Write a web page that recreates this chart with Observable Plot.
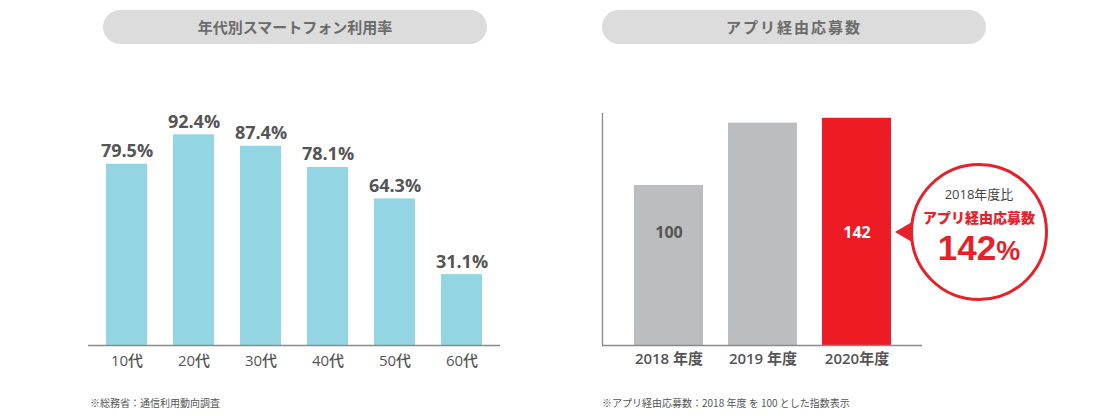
<!DOCTYPE html>
<html><head><meta charset="utf-8">
<script src="https://cdn.jsdelivr.net/npm/d3@7"></script>
<script src="https://cdn.jsdelivr.net/npm/@observablehq/plot@0.6"></script>
<style>
body{margin:0;background:#fff;}
#wrap{position:relative;width:1099px;height:416px;overflow:hidden;font-family:"Open Sans","Noto Sans CJK JP",sans-serif;}
.pill{position:absolute;top:10px;height:34px;border-radius:17px;background:#dcdcdd;color:#6b6b6b;font-weight:700;font-size:15px;line-height:34px;text-align:center;font-family:"Noto Sans CJK JP",sans-serif;}
.chart{position:absolute;top:0;}
.note{position:absolute;top:396px;font-size:10px;line-height:14px;color:#555;font-family:"Noto Sans CJK JP",sans-serif;white-space:nowrap;}
#bubble{position:absolute;left:910px;top:163px;width:138px;height:138px;box-sizing:border-box;border:3px solid #e8202a;border-radius:50%;background:#fff;}
#tri{position:absolute;left:895px;top:222px;width:0;height:0;border-top:10px solid transparent;border-bottom:10px solid transparent;border-right:17px solid #e8202a;}
.bt{position:absolute;left:910px;width:138px;text-align:center;white-space:nowrap;}
</style></head><body><div id="wrap">
<div class="pill" style="left:103px;width:384px;">年代別スマートフォン利用率</div>
<div class="pill" style="left:602px;width:384px;letter-spacing:2px;">アプリ経由応募数</div>
<div id="left" class="chart" style="left:0;"></div>
<div id="right" class="chart" style="left:560px;"></div>
<div id="tri"></div>
<div id="bubble"></div>
<div class="bt" style="top:185px;font-size:13px;line-height:18px;color:#444;font-family:'Open Sans','Noto Sans CJK JP',sans-serif;">2018年度比</div>
<div class="bt" style="top:207px;font-size:14px;line-height:20px;color:#e8202a;font-weight:900;font-family:'Noto Sans CJK JP',sans-serif;">アプリ経由応募数</div>
<div class="bt" style="top:229px;font-size:35px;line-height:38px;color:#e8202a;font-weight:700;font-family:'Liberation Sans',Arial,sans-serif;">142<span style="font-size:27px;">%</span></div>
<div class="note" style="left:90px;">※総務省：通信利用動向調査</div>
<div class="note" style="left:602px;">※アプリ経由応募数：2018 年度 を 100 とした指数表示</div>
</div>
<script>
const ageGroups = ["10代", "20代", "30代", "40代", "50代", "60代"];
const usageRates = [79.5, 92.4, 87.4, 78.1, 64.3, 31.1];

const fiscalYears = ["2018 年度", "2019 年度", "2020年度"];
const appIndex = [100, 139, 142];
const appIndexLabels = ["100", "", "142"];
const highlightYear = "2020年度";

const leftData = ageGroups.map((age, i) => ({age, rate: usageRates[i]}));
const rightData = fiscalYears.map((year, i) => ({year, index: appIndex[i], label: appIndexLabels[i]}));

const fontStack = "'Open Sans','Noto Sans CJK JP',sans-serif";

const leftChart = Plot.plot({
  width: 540, height: 380,
  marginLeft: 88, marginRight: 40, marginTop: 117, marginBottom: 35,
  x: {domain: ageGroups, paddingInner: 0.39, paddingOuter: 0.26},
  y: {domain: [0, 100], axis: null},
  style: {fontFamily: fontStack, background: "transparent", overflow: "visible"},
  marks: [
    Plot.barY(leftData, {x: "age", y: "rate", fill: "#94d5e3"}),
    Plot.ruleY([0], {stroke: "#8a8a8a", strokeWidth: 1.3}),
    Plot.text(leftData, {x: "age", y: "rate", text: d => d.rate.toFixed(1) + "%", lineAnchor: "bottom", dy: -7, fontSize: 18, fontWeight: 700, fill: "#555"}),
    Plot.axisX({tickSize: 0, tickPadding: 10, fontSize: 15, fontWeight: 500, fill: "#555", label: null})
  ]
});
document.getElementById("left").appendChild(leftChart);

const rightChart = Plot.plot({
  width: 400, height: 380,
  marginLeft: 42, marginRight: 38, marginTop: 113, marginBottom: 35,
  x: {domain: fiscalYears, paddingInner: 0.27, paddingOuter: 0.33},
  y: {domain: [0, 145], axis: null},
  style: {fontFamily: fontStack, background: "transparent", overflow: "visible"},
  marks: [
    Plot.barY(rightData, {x: "year", y: "index", fill: d => d.year === highlightYear ? "#ed1c24" : "#bcbdbf"}),
    Plot.ruleY([0], {stroke: "#8a8a8a", strokeWidth: 1.3}),
    Plot.frame({anchor: "left", stroke: "#8a8a8a", strokeWidth: 1.3}),
    Plot.text(rightData, {x: "year", text: "label", frameAnchor: "middle", dy: 3, fontSize: 16, fontWeight: 700, fill: d => d.year === highlightYear ? "#fff" : "#555"}),
    Plot.axisX({tickSize: 0, tickPadding: 8, fontSize: 15, fontWeight: 600, fill: "#555", label: null})
  ]
});
document.getElementById("right").appendChild(rightChart);
</script>
</body></html>
